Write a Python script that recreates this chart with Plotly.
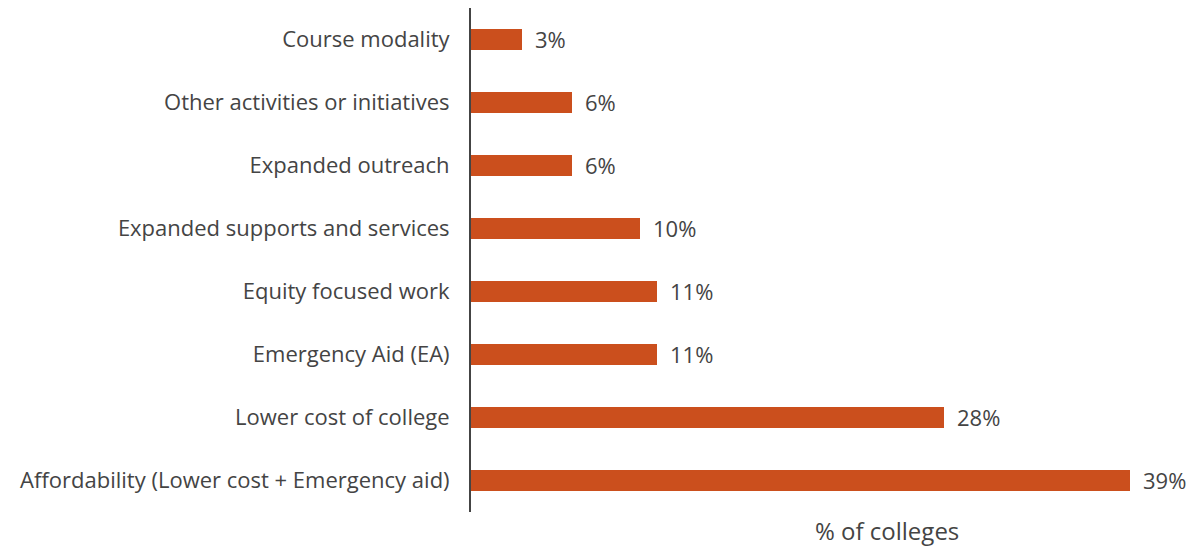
import plotly.graph_objects as go

categories = [
    "Course modality",
    "Other activities or initiatives",
    "Expanded outreach",
    "Expanded supports and services",
    "Equity focused work",
    "Emergency Aid (EA)",
    "Lower cost of college",
    "Affordability (Lower cost + Emergency aid)",
]
values = [3, 6, 6, 10, 11, 11, 28, 39]
value_labels = ["3%", "6%", "6%", "10%", "11%", "11%", "28%", "39%"]

BAR = "#CB4F1D"
TEXT = "#444444"
FONT = "Open Sans"

fig = go.Figure(
    go.Bar(
        x=values,
        y=categories,
        orientation="h",
        marker=dict(color=BAR, line=dict(width=0)),
        width=0.32,
        hoverinfo="skip",
    )
)

for cat, v, lab in zip(categories, values, value_labels):
    fig.add_annotation(
        x=v, y=cat, text=lab, showarrow=False,
        xanchor="left", xshift=11, yshift=1,
        font=dict(family=FONT, size=22, color=TEXT),
    )

fig.add_annotation(
    x=0.604, y=-0.036, xref="paper", yref="paper",
    text="% of colleges", showarrow=False,
    xanchor="center", yanchor="middle",
    font=dict(family=FONT, size=24, color=TEXT),
)

fig.update_layout(
    width=1198, height=546,
    margin=dict(l=471, r=38, t=8, b=34),
    paper_bgcolor="white", plot_bgcolor="white",
    showlegend=False,
    font=dict(family=FONT, size=22, color=TEXT),
    bargap=0,
)
fig.update_xaxes(range=[0, 40.78], visible=False, fixedrange=True)
fig.update_yaxes(
    categoryorder="array", categoryarray=categories[::-1],
    showline=True, linecolor="#444444", linewidth=2,
    showgrid=False, ticks="", ticklabelstandoff=15,
    tickfont=dict(family=FONT, size=22, color=TEXT),
    fixedrange=True,
)

fig.write_html("out.html")
